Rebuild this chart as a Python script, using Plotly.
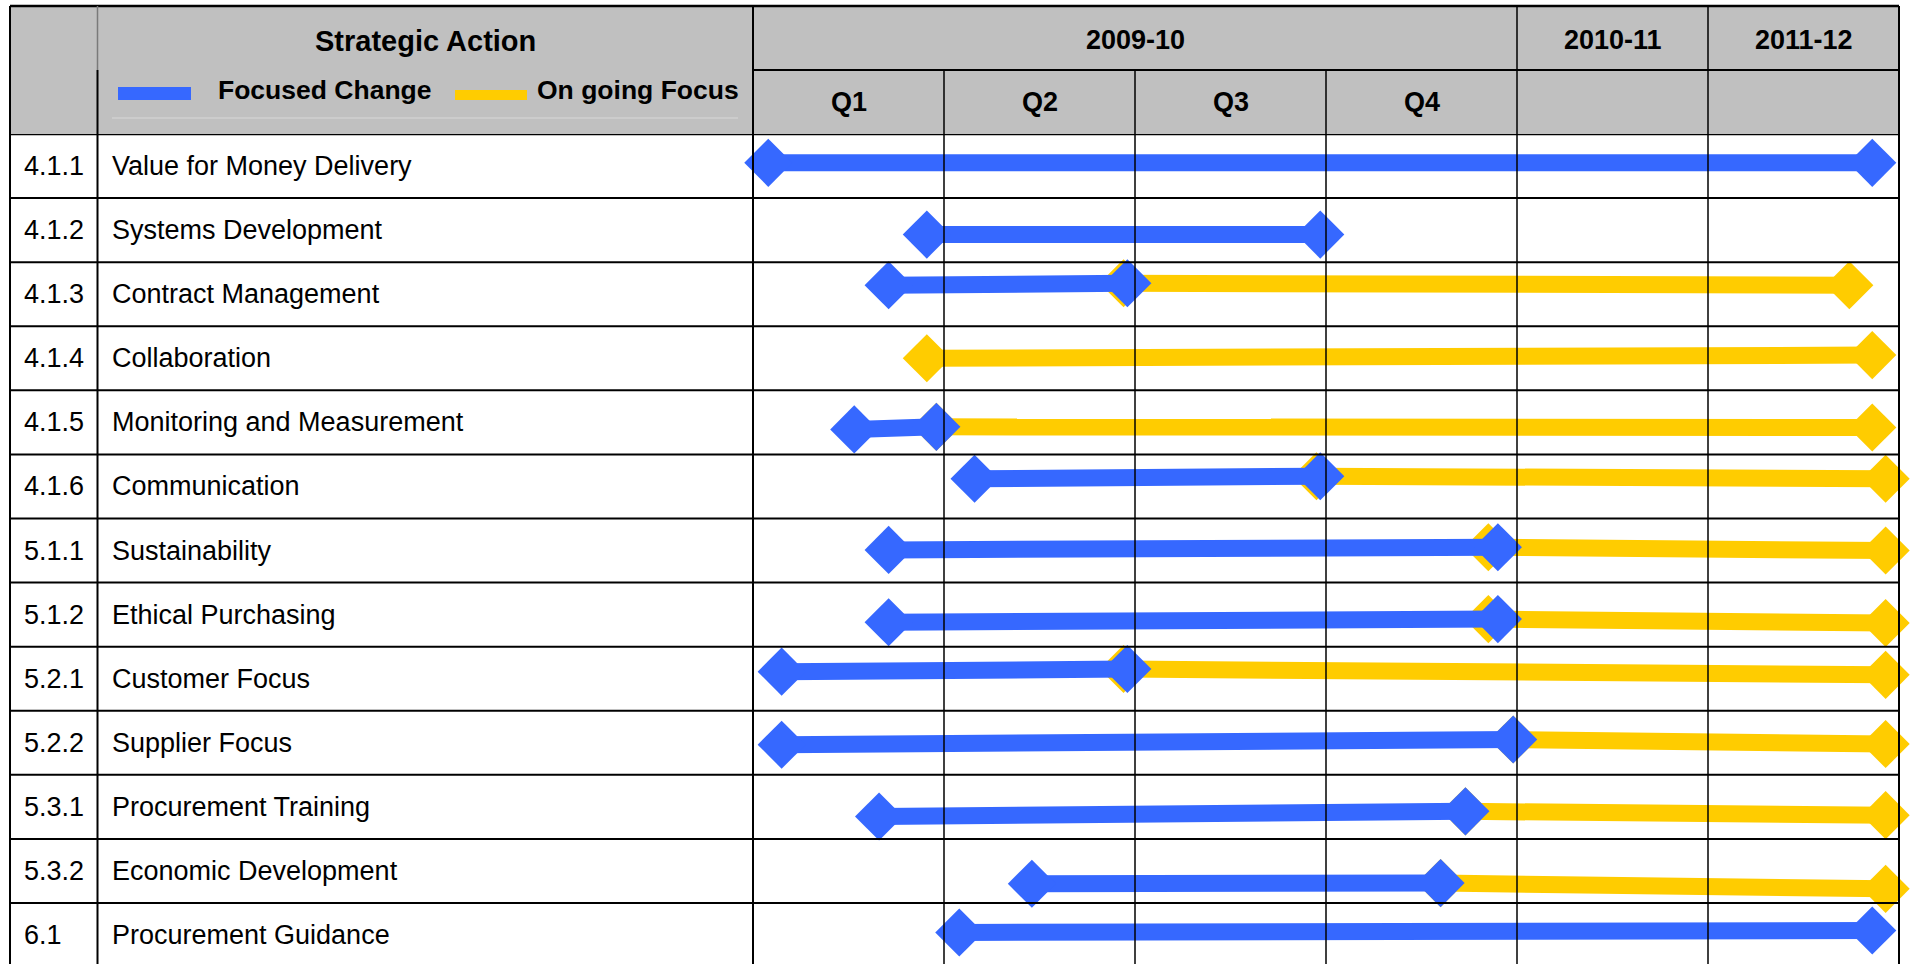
import plotly.graph_objects as go

# ---------------- data ----------------
codes = ["4.1.1", "4.1.2", "4.1.3", "4.1.4", "4.1.5", "4.1.6", "5.1.1",
         "5.1.2", "5.2.1", "5.2.2", "5.3.1", "5.3.2", "6.1"]
actions = ["Value for Money Delivery", "Systems Development", "Contract Management",
           "Collaboration", "Monitoring and Measurement", "Communication",
           "Sustainability", "Ethical Purchasing", "Customer Focus", "Supplier Focus",
           "Procurement Training", "Economic Development", "Procurement Guidance"]

# time columns: Q1..Q4 of 2009-10, then 2010-11, 2011-12 (one unit per column)
quarter_labels = ["Q1", "Q2", "Q3", "Q4", "", ""]
year_labels = ["2009-10", "2010-11", "2011-12"]
year_spans = [(0, 4), (4, 5), (5, 6)]

# period start / end, in column units (0 = start of Q1 2009-10)
focused_start = [0.08, 0.91, 0.71, None, 0.53, 1.16, 0.71, 0.71, 0.15, 0.15, 0.66, 1.46, 1.08]
focused_end   = [5.86, 2.97, 1.96, None, 0.96, 2.97, 3.90, 3.90, 1.96, 3.98, 3.73, 3.60, 5.86]
ongoing_start = [None, None, 1.94, 0.91, 0.96, 2.95, 3.85, 3.85, 1.94, 3.98, 3.73, 3.60, None]
ongoing_end   = [None, None, 5.74, 5.86, 5.86, 5.93, 5.93, 5.93, 5.93, 5.93, 5.93, 5.93, None]
# hand-drawn bar heights, in row units (row i spans i..i+1):
# at the first diamond, at the change-over diamond, at the last diamond
pos_start  = [0.45, 1.57, 2.36, 3.50, 4.61, 5.38, 6.49, 7.62, 8.39, 9.53, 10.65, 11.70, 12.46]
pos_switch = [0.45, 1.57, 2.33, None, 4.57, 5.34, 6.45, 7.57, 8.35, 9.45, 10.57, 11.69, 12.43]
pos_end    = [None, None, 2.36, 3.45, 4.58, 5.38, 6.50, 7.63, 8.44, 9.52, 10.63, 11.78, None]

series_names = ["Focused Change", "On going Focus"]

# ---------------- styling / layout ----------------
W, H = 1910, 964
BLUE = "#3668ff"
YELLOW = "#ffcc00"
HEAD = "#c0c0c0"
FONT = "Liberation Sans, Arial, sans-serif"
ROW_TOP = 134.0
ROW_H = 64.08
X_LEFT, X_DIV1, X_DIV2, X_RIGHT = 10, 97.5, 753, 1899
HEAD_TOP, HEAD_MID = 6, 70


def px(x):
    return x / W


def py(y):
    return 1 - y / H


blue_x, blue_y, yel_x, yel_y = [], [], [], []
for i in range(len(codes)):
    if focused_start[i] is not None:
        blue_x += [focused_start[i], focused_end[i], None]
        blue_y += [pos_start[i], pos_switch[i], None]
    if ongoing_start[i] is not None:
        y0 = pos_switch[i] if focused_start[i] is not None else pos_start[i]
        yel_x += [ongoing_start[i], ongoing_end[i], None]
        yel_y += [y0, pos_end[i], None]

fig = go.Figure()
for name, xs, ys, col in [(series_names[1], yel_x, yel_y, YELLOW),
                          (series_names[0], blue_x, blue_y, BLUE)]:
    fig.add_trace(go.Scatter(
        x=xs, y=ys, mode="lines+markers", name=name, showlegend=False,
        line=dict(color=col, width=17),
        marker=dict(symbol="diamond", size=37, color=col, line=dict(width=0)),
        cliponaxis=False, connectgaps=False, hoverinfo="skip"))

shapes = []
# header background
shapes.append(dict(type="rect", xref="paper", yref="paper",
                   x0=px(X_LEFT), x1=px(X_RIGHT), y0=py(HEAD_TOP), y1=py(ROW_TOP),
                   fillcolor=HEAD, line=dict(width=0), layer="below"))
# faint line inside Strategic Action cell
shapes.append(dict(type="line", xref="paper", yref="paper",
                   x0=px(112), x1=px(738), y0=py(118), y1=py(118),
                   line=dict(color="#d8d8d8", width=1), layer="below"))
# legend swatches
shapes.append(dict(type="rect", xref="paper", yref="paper",
                   x0=px(118), x1=px(191), y0=py(87), y1=py(100),
                   fillcolor=BLUE, line=dict(width=0)))
shapes.append(dict(type="rect", xref="paper", yref="paper",
                   x0=px(455), x1=px(527), y0=py(90), y1=py(100),
                   fillcolor=YELLOW, line=dict(width=0)))

BLACK = "#000000"
# top border
shapes.append(dict(type="line", xref="paper", yref="paper",
                   x0=px(X_LEFT), x1=px(X_RIGHT), y0=py(HEAD_TOP), y1=py(HEAD_TOP),
                   line=dict(color=BLACK, width=2.5)))
# header middle divider (timeline part)
shapes.append(dict(type="line", xref="paper", yref="paper",
                   x0=px(X_DIV2), x1=px(X_RIGHT), y0=py(HEAD_MID), y1=py(HEAD_MID),
                   line=dict(color=BLACK, width=2)))
# row lines (header bottom + row separators)
for i in range(0, len(codes)):
    shapes.append(dict(type="line", xref="paper", yref="y",
                       x0=px(X_LEFT), x1=px(X_RIGHT), y0=i, y1=i,
                       line=dict(color=BLACK, width=2.5 if i == 0 else 2)))
# vertical borders
for xv in (X_LEFT, X_DIV2, X_RIGHT):
    shapes.append(dict(type="line", xref="paper", yref="paper",
                       x0=px(xv), x1=px(xv), y0=py(HEAD_TOP), y1=0,
                       line=dict(color=BLACK, width=2)))
shapes.append(dict(type="line", xref="paper", yref="paper",
                   x0=px(X_DIV1), x1=px(X_DIV1), y0=py(HEAD_TOP), y1=py(HEAD_MID),
                   line=dict(color="#7a7a7a", width=1.5)))
shapes.append(dict(type="line", xref="paper", yref="paper",
                   x0=px(X_DIV1), x1=px(X_DIV1), y0=py(HEAD_MID), y1=0,
                   line=dict(color=BLACK, width=2)))
# timeline column lines
for c in range(1, 6):
    full = any(c == a for a, b in year_spans)
    shapes.append(dict(type="line", xref="x", yref="paper",
                       x0=c, x1=c, y0=py(HEAD_TOP if full else HEAD_MID), y1=0,
                       line=dict(color=BLACK, width=1.5)))

ann = []
TXT = dict(family=FONT, size=27, color="#000000")
for i, (c, a) in enumerate(zip(codes, actions)):
    ann.append(dict(text=c, xref="paper", yref="y", x=px(22), y=i + 0.5,
                    xanchor="left", yanchor="middle", showarrow=False, font=TXT))
    ann.append(dict(text=a, xref="paper", yref="y", x=px(109.5), y=i + 0.5,
                    xanchor="left", yanchor="middle", showarrow=False, font=TXT))

BOLD = dict(family=FONT, size=27, color="#000000")
LEG = dict(family=FONT, size=26.5, color="#000000")
ann.append(dict(text="<b>Strategic Action</b>", xref="paper", yref="paper",
                x=px(425), y=py(41), xanchor="center", yanchor="middle",
                showarrow=False, font=dict(family=FONT, size=29, color="#000000")))
ann.append(dict(text="<b>" + series_names[0] + "</b>", xref="paper", yref="paper",
                x=px(216), y=py(90), xanchor="left", yanchor="middle",
                showarrow=False, font=LEG))
ann.append(dict(text="<b>" + series_names[1] + "</b>", xref="paper", yref="paper",
                x=px(535), y=py(90), xanchor="left", yanchor="middle",
                showarrow=False, font=LEG))
for lab, (a, b) in zip(year_labels, year_spans):
    ann.append(dict(text="<b>" + lab + "</b>", xref="x", yref="paper",
                    x=(a + b) / 2, y=py(40), xanchor="center", yanchor="middle",
                    showarrow=False, font=BOLD))
for i, q in enumerate(quarter_labels):
    if q:
        ann.append(dict(text="<b>" + q + "</b>", xref="x", yref="paper",
                        x=i + 0.5, y=py(102), xanchor="center", yanchor="middle",
                        showarrow=False, font=BOLD))

fig.update_layout(
    width=W, height=H, margin=dict(l=0, r=0, t=0, b=0),
    paper_bgcolor="white", plot_bgcolor="rgba(0,0,0,0)",
    xaxis=dict(domain=[px(X_DIV2), px(X_RIGHT)], range=[0, 6], visible=False,
               fixedrange=True),
    yaxis=dict(domain=[0, py(ROW_TOP)], range=[(H - ROW_TOP) / ROW_H, 0],
               visible=False, fixedrange=True),
    shapes=shapes, annotations=ann, showlegend=False,
)

fig.write_html("out.html", config={"displayModeBar": False},
               post_script="document.body.style.margin='0';"
                           "document.body.style.overflow='hidden';")
